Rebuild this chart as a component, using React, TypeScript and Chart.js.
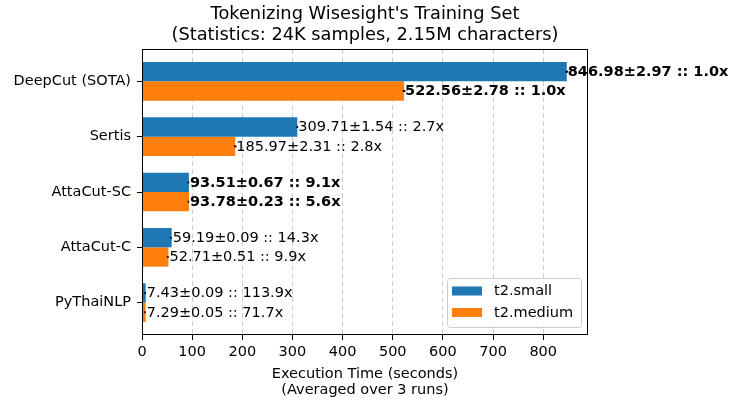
import React, { useEffect, useRef } from "react";
import { Chart, registerables } from "chart.js";

Chart.register(...registerables);

const categories = ["DeepCut (SOTA)", "Sertis", "AttaCut-SC", "AttaCut-C", "PyThaiNLP"];
const seriesNames = ["t2.small", "t2.medium"];
const smallMeans = [846.98, 309.71, 93.51, 59.19, 7.43];
const smallStds = [2.97, 1.54, 0.67, 0.09, 0.09];
const smallSpeedups = ["1.0", "2.7", "9.1", "14.3", "113.9"];
const mediumMeans = [522.56, 185.97, 93.78, 52.71, 7.29];
const mediumStds = [2.78, 2.31, 0.23, 0.51, 0.05];
const mediumSpeedups = ["1.0", "2.8", "5.6", "9.9", "71.7"];
const boldRows = [true, false, true, false, false];
const xTicks = [0, 100, 200, 300, 400, 500, 600, 700, 800];
const titleLines = ["Tokenizing Wisesight's Training Set", "(Statistics: 24K samples, 2.15M characters)"];
const xLabelLines = ["Execution Time (seconds)", "(Averaged over 3 runs)"];

const colors = ["#1f77b4", "#ff7f0e"];
const FONT = "'DejaVu Sans', sans-serif";
const FS = 14.5;
const stdsBySeries = [smallStds, mediumStds];
const speedupsBySeries = [smallSpeedups, mediumSpeedups];

const decorPlugin = {
  id: "decor",
  afterDatasetsDraw(chart: any) {
    const ctx = chart.ctx;
    const xs = chart.scales.x;
    chart.data.datasets.forEach((ds: any, di: number) => {
      const meta = chart.getDatasetMeta(di);
      meta.data.forEach((el: any, i: number) => {
        const mean = ds.data[i].x;
        const std = stdsBySeries[di][i];
        const y = el.y;
        ctx.save();
        ctx.strokeStyle = "#000";
        ctx.lineWidth = 2;
        ctx.beginPath();
        const x1 = xs.getPixelForValue(mean - std);
        const x2 = xs.getPixelForValue(mean + std);
        ctx.moveTo(Math.min(x1, x2 - 1.5), y);
        ctx.lineTo(x2, y);
        ctx.stroke();
        const label = `${mean.toFixed(2)}±${std.toFixed(2)} :: ${speedupsBySeries[di][i]}x`;
        ctx.fillStyle = "#000";
        ctx.font = `${boldRows[i] ? "bold " : ""}${FS}px ${FONT}`;
        ctx.textAlign = "left";
        ctx.textBaseline = "middle";
        ctx.fillText(label, xs.getPixelForValue(mean) + 1, y + 0.5);
        ctx.restore();
      });
    });
  },
  afterDraw(chart: any) {
    const ctx = chart.ctx;
    const a = chart.chartArea;
    ctx.save();
    ctx.strokeStyle = "#000";
    ctx.lineWidth = 1;
    ctx.strokeRect(a.left + 0.5, a.top + 0.5, a.right - a.left - 1, a.bottom - a.top - 1);
    const cx = (a.left + a.right) / 2;
    ctx.fillStyle = "#000";
    ctx.textAlign = "center";
    ctx.textBaseline = "alphabetic";
    ctx.font = `17.8px ${FONT}`;
    ctx.fillText(titleLines[0], cx, 18.5);
    ctx.fillText(titleLines[1], cx, 39.5);
    ctx.font = `${FS}px ${FONT}`;
    ctx.fillText(xLabelLines[0], cx, 378);
    ctx.fillText(xLabelLines[1], cx, 393.5);
    const lx = 447.5, ly = 278.5, lw = 134, lh = 49;
    ctx.beginPath();
    if (ctx.roundRect) ctx.roundRect(lx, ly, lw, lh, 3);
    else ctx.rect(lx, ly, lw, lh);
    ctx.fillStyle = "rgba(255,255,255,0.8)";
    ctx.fill();
    ctx.strokeStyle = "#cccccc";
    ctx.lineWidth = 1;
    ctx.stroke();
    const rowsY = [291, 312.5];
    chart.data.datasets.forEach((ds: any, di: number) => {
      ctx.fillStyle = ds.backgroundColor;
      ctx.fillRect(452, rowsY[di] - 4.5, 30, 9);
      ctx.fillStyle = "#000";
      ctx.textAlign = "left";
      ctx.textBaseline = "middle";
      ctx.font = `${FS}px ${FONT}`;
      ctx.fillText(ds.label, 494, rowsY[di] + 0.5);
    });
    ctx.restore();
  },
};

export default function App() {
  const ref = useRef<HTMLCanvasElement | null>(null);
  useEffect(() => {
    if (!ref.current) return;
    const chart = new Chart(ref.current, {
      type: "bar",
      data: {
        datasets: [
          {
            label: seriesNames[0],
            data: smallMeans.map((v, i) => ({ x: v, y: i })),
            backgroundColor: colors[0],
            borderWidth: 0,
          },
          {
            label: seriesNames[1],
            data: mediumMeans.map((v, i) => ({ x: v, y: i })),
            backgroundColor: colors[1],
            borderWidth: 0,
          },
        ],
      } as any,
      options: {
        indexAxis: "y",
        animation: false,
        responsive: false,
        maintainAspectRatio: false,
        events: [],
        layout: { padding: { left: 0, right: 142, top: 49, bottom: 0 }, autoPadding: false },
        plugins: { legend: { display: false }, title: { display: false }, tooltip: { enabled: false } },
        datasets: { bar: { categoryPercentage: 0.7, barPercentage: 1.0 } },
        scales: {
          x: {
            type: "linear",
            position: "bottom",
            min: 0,
            max: 889.3,
            offset: false,
            afterBuildTicks: (s: any) => {
              s.ticks = xTicks.map((v) => ({ value: v }));
            },
            afterFit: (s: any) => {
              s.height = 69;
            },
            grid: {
              offset: false,
              color: "#cccccc",
              lineWidth: 1,
              drawOnChartArea: true,
              drawTicks: true,
              tickLength: 5,
              tickColor: "#000",
              tickWidth: 1,
              tickBorderDash: [],
            },
            border: { display: false, dash: [5, 3] },
            ticks: { font: { family: FONT, size: FS }, color: "#000", padding: 4, maxRotation: 0, autoSkip: false },
          },
          y: {
            type: "linear",
            position: "left",
            reverse: true,
            offset: false,
            min: -0.585,
            max: 4.585,
            afterBuildTicks: (s: any) => {
              s.ticks = categories.map((_, i) => ({ value: i }));
            },
            afterFit: (s: any) => {
              s.width = 142;
            },
            grid: { offset: false, drawOnChartArea: false, drawTicks: true, tickLength: 5, tickColor: "#000", tickWidth: 1 },
            border: { display: false },
            ticks: {
              callback: (v: any) => categories[Math.round(Number(v))],
              font: { family: FONT, size: FS },
              color: "#000",
              padding: 6,
              autoSkip: false,
            },
          },
        },
      } as any,
      plugins: [decorPlugin],
    });
    return () => chart.destroy();
  }, []);
  return (
    <div style={{ position: "fixed", left: 0, top: 0, width: 730, height: 404, background: "#fff" }}>
      <canvas ref={ref} width={730} height={404} style={{ width: 730, height: 404, display: "block" }} />
    </div>
  );
}
